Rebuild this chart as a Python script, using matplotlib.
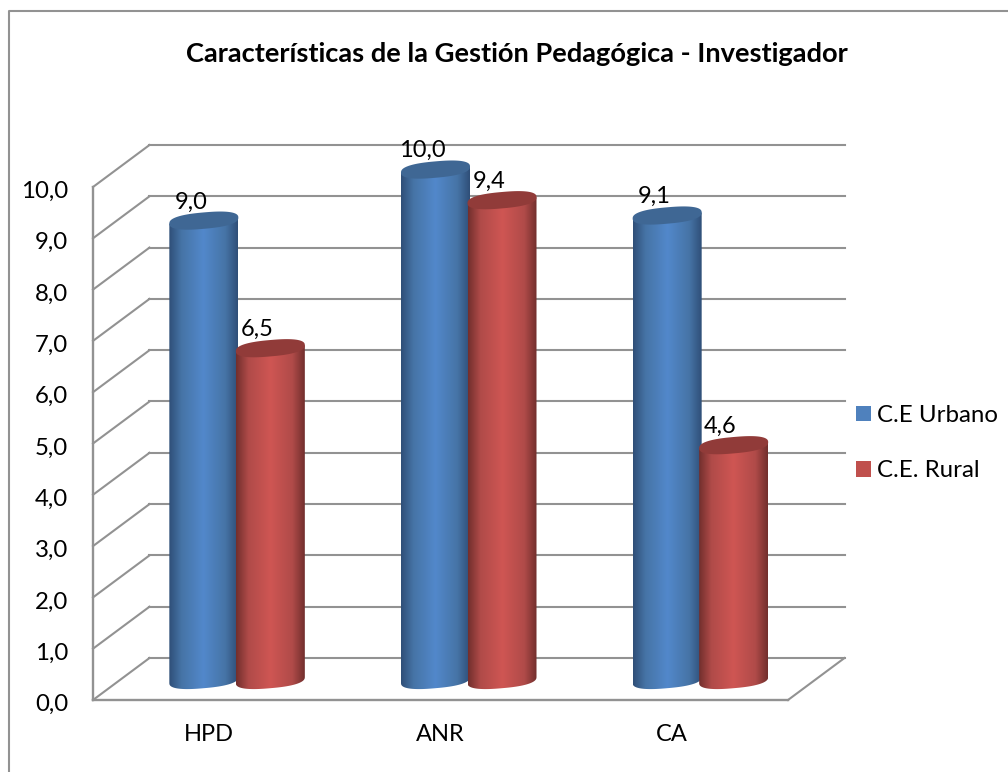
import numpy as np
import matplotlib
matplotlib.use('Agg')
import matplotlib.pyplot as plt
from matplotlib.colors import LinearSegmentedColormap
from matplotlib.patches import Patch, Polygon
from matplotlib.transforms import ScaledTranslation

plt.rcParams['font.family'] = ['Lato', 'DejaVu Sans']

categories = ['HPD', 'ANR', 'CA']
urbano = [9.0, 10.0, 9.1]
rural = [6.5, 9.4, 4.6]
urbano_labels = ['9,0', '10,0', '9,1']
rural_labels = ['6,5', '9,4', '4,6']
y_ticks = [0, 1, 2, 3, 4, 5, 6, 7, 8, 9, 10]
y_tick_labels = ['0,0', '1,0', '2,0', '3,0', '4,0', '5,0', '6,0', '7,0', '8,0', '9,0', '10,0']
title = 'Características de la Gestión Pedagógica - Investigador'
series_names = ['C.E Urbano', 'C.E. Rural']

W, H = 1008, 772
fig = plt.figure(figsize=(W / 100, H / 100), dpi=100, facecolor='white')
ax = fig.add_axes([93 / W, (H - 700) / H, 695 / W, 513 / H])
ax.set_xlim(-0.5, 2.5)
ax.set_ylim(0, 10)
ax.patch.set_visible(False)

# pixels to data units
px_x = 3 / 695
px_y = 10 / 513
depth_x = 56.5 * px_x
depth_y = 42 * px_y
grid_c = '#929292'

# back wall and diagonals
for v in y_ticks:
    ax.plot([-0.5 + depth_x, 2.5 + depth_x], [v + depth_y, v + depth_y], color=grid_c, lw=1.5, clip_on=False, zorder=1)
    ax.plot([-0.5, -0.5 + depth_x], [v, v + depth_y], color=grid_c, lw=1.5, clip_on=False, zorder=1)
ax.plot([2.5, 2.5 + depth_x], [0, depth_y], color=grid_c, lw=1.5, clip_on=False, zorder=1)


def ring(t, p=0.8):
    # squarish ellipse, Excel's cylinders have flat ends
    c = np.sign(np.cos(t)) * np.abs(np.cos(t)) ** p
    s = np.sign(np.sin(t)) * np.abs(np.sin(t)) ** p
    return c, s


def cylinder(x, val, edge, mid, bright, top_c, z):
    rx = 34.5 * px_x
    ry = 8.2 * px_y
    tilt = 3 * px_y
    cx = x + depth_x / 2
    base = 20 * px_y
    top = base + val * 0.995
    # body: lower half of the base ellipse, then back along the top centre line
    c, s = ring(np.linspace(np.pi, 2 * np.pi, 60))
    low_x = cx + rx * c
    low_y = base + ry * s + tilt * c
    up_x = cx + rx * c[::-1]
    up_y = top + tilt * c[::-1]
    body = Polygon(np.column_stack([np.concatenate([low_x, up_x]), np.concatenate([low_y, up_y])]),
                   closed=True, fc='none', ec='none', zorder=z)
    ax.add_patch(body)
    cmap = LinearSegmentedColormap.from_list('cyl', [(0, edge), (0.18, mid), (0.5, bright), (0.82, mid), (1, edge)])
    im = ax.imshow(np.linspace(0, 1, 128).reshape(1, -1), cmap=cmap, aspect='auto',
                   extent=[cx - rx, cx + rx, base - 2 * ry, top + 2 * ry], zorder=z)
    im.set_clip_box(fig.bbox)
    im.set_clip_path(body)
    c, s = ring(np.linspace(0, 2 * np.pi, 120))
    ax.add_patch(Polygon(np.column_stack([cx + rx * c, top + ry * s + tilt * c]), closed=True,
                         fc=top_c, ec='none', clip_on=False, zorder=z + 0.1))
    return cx, top


bar_off = 66.5 * px_x / 2
for i in range(len(categories)):
    cx, top = cylinder(i - bar_off, urbano[i], '#2f4f78', '#4674a6', '#5288cb', '#3f6794', 3 + i)
    ax.annotate(urbano_labels[i], (cx, top), xytext=(-9.4, 13.5), textcoords='offset points', annotation_clip=False,
                ha='center', va='center', fontsize=17, color='black', zorder=10)
    cx, top = cylinder(i + bar_off, rural[i], '#722f2d', '#b04b49', '#cf5653', '#913b39', 3.5 + i)
    ax.annotate(rural_labels[i], (cx, top), xytext=(-9.4, 13.5), textcoords='offset points', annotation_clip=False,
                ha='center', va='center', fontsize=17, color='black', zorder=10)
ax.set_xlim(-0.5, 2.5)
ax.set_ylim(0, 10)

ax.set_xticks(range(len(categories)))
ax.set_xticklabels(categories, fontsize=17)
ax.set_yticks(y_ticks)
ax.set_yticklabels(y_tick_labels, fontsize=17.3)
ax.tick_params(axis='x', length=0, pad=17)
ax.tick_params(axis='y', length=0, pad=18)
for lbl in ax.get_yticklabels():
    lbl.set_transform(lbl.get_transform() + ScaledTranslation(0, -2.5 / 100, fig.dpi_scale_trans))
for s in ['top', 'right']:
    ax.spines[s].set_visible(False)
for s in ['left', 'bottom']:
    ax.spines[s].set_color(grid_c)
    ax.spines[s].set_linewidth(1.7)

fig.text(517 / W, 1 - 54 / H, title, ha='center', va='center', fontsize=19.6, fontweight='bold')

handles = [Patch(fc='#4f81bd', ec='none'), Patch(fc='#c0504d', ec='none')]
fig.legend(handles, series_names, loc='upper left', bbox_to_anchor=(856 / W, 1 - 405 / H), frameon=False,
           fontsize=17.3, handlelength=0.62, handleheight=0.62, handletextpad=0.25, labelspacing=1.43,
           borderpad=0, borderaxespad=0)

# chart area border
fig.add_artist(plt.Line2D([9 / W, 9 / W, 1], [0, 1 - 11 / H, 1 - 11 / H], color='#929292', lw=1.5))

fig.savefig('out.png', dpi=100)
